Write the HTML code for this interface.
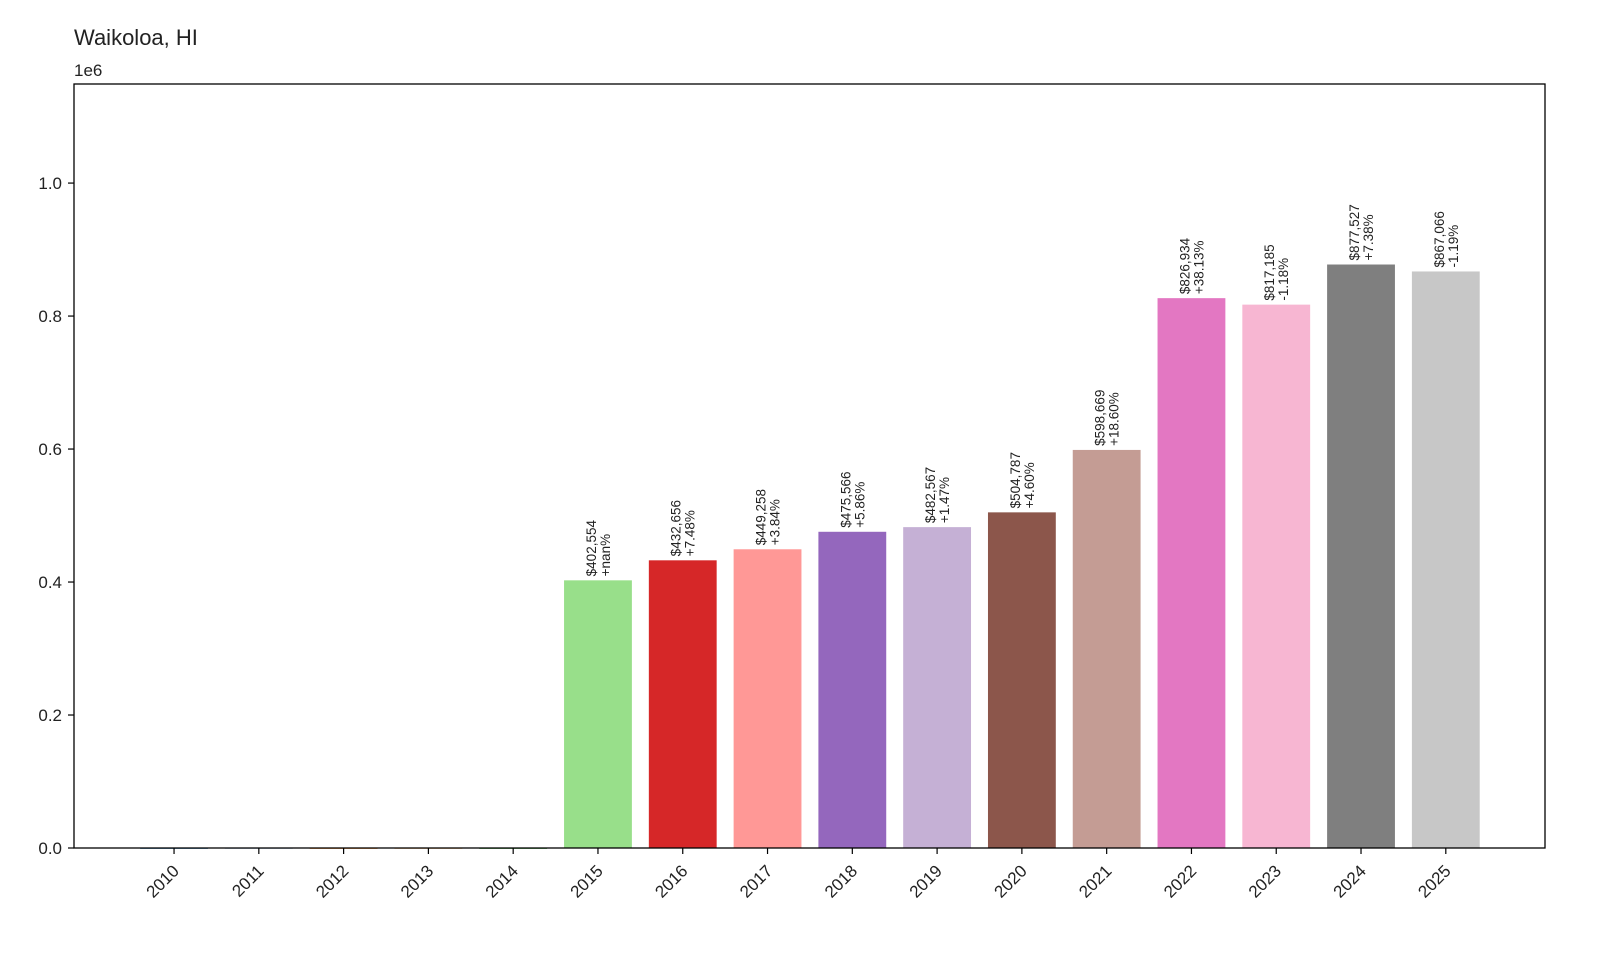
<!DOCTYPE html>
<html><head><meta charset="utf-8"><style>
body{margin:0;background:#fff;}
svg{display:block;font-family:"Liberation Sans","DejaVu Sans",sans-serif;}
</style></head><body>
<svg id="chart" width="1600" height="960" xmlns="http://www.w3.org/2000/svg">
<rect width="1600" height="960" fill="#fff"/>
<text x="74" y="45" font-size="22" fill="#222">Waikoloa, HI</text>
<text x="74" y="76" font-size="17" fill="#222">1e6</text>
<g id="plot"></g>
<rect x="74" y="84" width="1471" height="764" fill="none" stroke="#000" stroke-width="1.3"/>
</svg>
<script>
const years = ["2010","2011","2012","2013","2014","2015","2016","2017","2018","2019","2020","2021","2022","2023","2024","2025"];
const values = [0,0,0,0,0,402554,432656,449258,475566,482567,504787,598669,826934,817185,877527,867066];
const changes = ["","","","","","+nan%","+7.48%","+3.84%","+5.86%","+1.47%","+4.60%","+18.60%","+38.13%","-1.18%","+7.38%","-1.19%"];
const yTicks = [0,0.2,0.4,0.6,0.8,1.0];
const yTickLabels = ["0.0","0.2","0.4","0.6","0.8","1.0"];
const colors = ["#1f77b4","#aec7e8","#ff7f0e","#ffbb78","#2ca02c","#98df8a","#d62728","#ff9896","#9467bd","#c5b0d5","#8c564b","#c49c94","#e377c2","#f7b6d2","#7f7f7f","#c7c7c7"];
const L=74,R=1545,T=84,B=848;
const xMin=-1.18,xMax=16.17,yMax=1.149e6;
const x=i=>L+(i-xMin)/(xMax-xMin)*(R-L);
const y=v=>B-v/yMax*(B-T);
const bw=(R-L)/(xMax-xMin)*0.8;
const g=document.getElementById('plot');
const NS="http://www.w3.org/2000/svg";
function mk(t,a){const e=document.createElementNS(NS,t);for(const k in a)e.setAttribute(k,a[k]);g.appendChild(e);return e;}
yTicks.forEach((t,i)=>{
  const yy=y(t*1e6);
  const l=mk('line',{x1:L-6,x2:L,y1:yy,y2:yy,stroke:'#000','stroke-width':1.2});
  
  
  const tx=mk('text',{x:L-12,y:yy+6,'text-anchor':'end','font-size':17,fill:'#222'});
  
  
  tx.textContent=yTickLabels[i];
});
years.forEach((yr,i)=>{
  const cx=x(i);
  const top=y(values[i]);
  const r=mk('rect',{x:cx-bw/2,y:top,width:bw,height:Math.max(B-top,0.8),fill:colors[i]});
  
  
  const tk=mk('line',{x1:cx,x2:cx,y1:B,y2:B+6,stroke:'#000','stroke-width':1.2});
  
  
  const lb=mk('text',{transform:`translate(${cx+6},${B+24}) rotate(-45)`,'text-anchor':'end','font-size':17,fill:'#222'});
  
  
  lb.textContent=yr;
  if(values[i]>0){
    const t=mk('text',{transform:`translate(${cx},${top-4}) rotate(-90)`,'font-size':13.5,fill:'#222'});
    
    
    const s1=document.createElementNS(NS,'tspan');s1.setAttribute('x',0);s1.setAttribute('y',-2);
    s1.textContent='$'+values[i].toLocaleString('en-US');
    const s2=document.createElementNS(NS,'tspan');s2.setAttribute('x',0);s2.setAttribute('y',12);
    s2.textContent=changes[i];
    t.appendChild(s1);t.appendChild(s2);
  }
});
</script>
</body></html>
